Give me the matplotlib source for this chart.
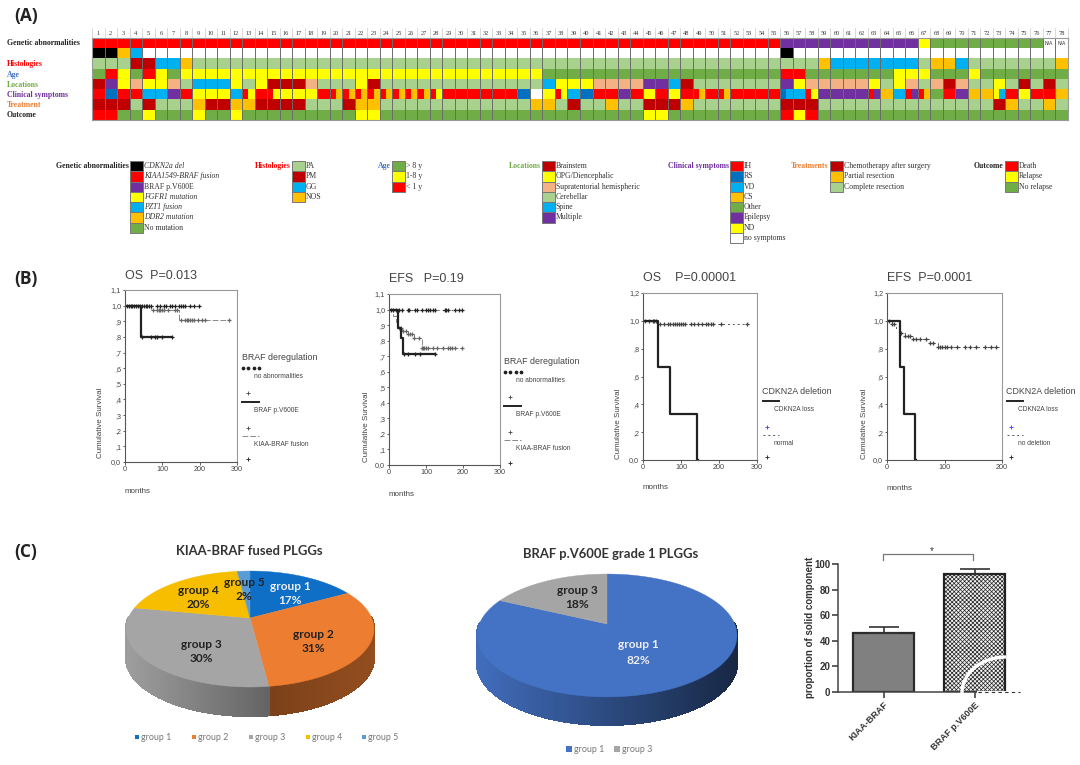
import numpy as np
import matplotlib
matplotlib.use('Agg')
import matplotlib.pyplot as plt
from matplotlib.colors import ListedColormap, to_rgb
from matplotlib.collections import PolyCollection
from matplotlib.patches import Polygon, Rectangle

W, H = 1080, 765

# panel A, one code per patient (two letters = cell split in two)
codes = {'K': '#000000', 'R': '#FF0000', 'P': '#7030A0', 'Y': '#FFFF00', 'B': '#00B0F0', 'O': '#FFC000',
         'G': '#70AD47', 'L': '#A9D18E', 'D': '#C00000', 'S': '#F4B183', 'N': '#0070C0', 'W': '#FFFFFF'}

row_genetic = ['R'] * 55 + ['P'] * 11 + ['Y'] + ['G'] * 9 + ['W'] * 2
row_genetic2 = ['K'] * 2 + ['O', 'B'] + ['W'] * 51 + ['K'] + ['W'] * 22
row_histology = ['L'] * 3 + ['D'] * 2 + ['B'] * 2 + ['O'] + ['L'] * 50 + ['O'] + ['B'] * 7 + ['L'] + ['O'] * 2 + ['B'] \
    + ['L'] * 7 + ['O']
row_age = list('GRYGRYG') + ['Y'] * 29 + ['G'] * 19 + ['R'] * 2 + ['G'] * 7 + ['Y'] * 3 + ['G'] * 3 + ['Y'] + ['G'] * 7
row_location = list('DPYSYYSL') + ['B'] * 3 + ['Y', 'L', 'Y'] + ['D'] * 3 + ['S'] + ['L'] * 3 + ['Y', 'D'] + ['L'] * 13 \
    + ['B'] + ['Y'] * 3 + ['S'] * 4 + ['P'] * 2 + ['B', 'D'] + ['L'] * 7 + ['P', 'Y'] + ['S'] * 5 \
    + list('YLYSLSDS') + ['L'] * 2 + list('YLDLDL')
row_symptoms = ('R N R R B B P R Y Y Y B RY R RY Y Y Y R RO RO RO RO RO RO RO RO RY '
                'R R R R R R N W Y RY B N R R P R Y R Y R RO R RO R R R R '
                'NB B RY P P P P RP O B RP RO G R P O O YB R Y R R O').split()
row_treatment = ['D'] * 3 + ['L', 'D'] + ['L'] * 3 + ['O'] + ['D'] * 2 + ['O'] * 2 + ['D'] * 4 + ['L'] * 3 + ['D'] \
    + ['O'] * 2 + ['L'] * 12 + ['O'] * 2 + ['L', 'D'] + ['L'] * 2 + ['O'] + ['L'] * 2 + ['D'] * 3 + ['O'] + ['L'] * 7 \
    + ['D'] * 3 + ['L'] * 14 + ['D', 'O'] + ['L'] * 2 + ['O', 'L']
row_outcome = ['R'] * 2 + ['G'] * 2 + ['Y'] + ['G'] * 3 + ['Y'] + ['G'] * 2 + ['Y'] + ['G'] * 9 + ['Y'] * 2 + ['G'] * 21 \
    + ['Y'] * 2 + ['G'] * 9 + ['R', 'Y', 'R'] + ['G'] * 20
heat_rows = [row_genetic, row_genetic2, row_histology, row_age, row_location, row_symptoms, row_treatment, row_outcome]

row_labels = ['Genetic abnormalities', 'Histologies', 'Age', 'Locations', 'Clinical symptoms', 'Treatment', 'Outcome']
row_label_colors = ['#222222', '#FF0000', '#4472C4', '#70AD47', '#7030A0', '#ED7D31', '#222222']

legend_groups = [
    ('Genetic abnormalities', '#222222', list('KRPYBOG'),
     ['CDKN2a del', 'KIAA1549-BRAF fusion', 'BRAF p.V600E', 'FGFR1 mutation', 'PZT1 fusion', 'DDR2 mutation',
      'No mutation']),
    ('Histologies', '#FF0000', list('LDBO'), ['PA', 'PM', 'GG', 'NOS']),
    ('Age', '#4472C4', list('GYR'), ['> 8 y', '1-8 y', '< 1 y']),
    ('Locations', '#70AD47', list('DYSLBP'),
     ['Brainstem', 'OPG/Diencephalic', 'Supratentorial hemispheric', 'Cerebellar', 'Spine', 'Multiple']),
    ('Clinical symptoms', '#7030A0', list('RNBOGPYW'),
     ['IH', 'RS', 'VD', 'CS', 'Other', 'Epilepsy', 'ND', 'no symptoms']),
    ('Treatments', '#ED7D31', list('DOL'), ['Chemotherapy after surgery', 'Partial resection', 'Complete resection']),
    ('Outcome', '#222222', list('RYG'), ['Death', 'Relapse', 'No relapse']),
]
legend_swatch_x = [130, 292, 392, 542, 730, 830, 1005]
italic_legend = ['CDKN2a del', 'KIAA1549-BRAF fusion', 'FGFR1 mutation', 'PZT1 fusion', 'DDR2 mutation']

# panel B, survival curves: step times, survival, censor times
os1_none = ([0, 200], [1.0, 1.0],
            [5, 10, 15, 20, 25, 30, 35, 40, 45, 50, 55, 60, 65, 70, 85, 95, 105, 110, 120, 125, 135, 145, 150, 155,
             160, 175, 185, 198])
os1_v600 = ([0, 42, 125], [1.0, 0.8, 0.8], [45, 70, 80, 85, 100, 125])
os1_kiaa = ([0, 70, 145, 280], [1.0, 0.975, 0.91, 0.91],
            [75, 85, 90, 95, 100, 105, 115, 135, 140, 150, 160, 165, 170, 175, 180, 185, 195, 205, 215, 278])
efs1_none = ([0, 200], [1.0, 1.0],
             [5, 12, 20, 28, 35, 50, 55, 70, 75, 90, 100, 105, 110, 118, 125, 150, 155, 160, 178, 190, 198])
efs1_v600 = ([0, 24, 33, 38, 125], [1.0, 0.88, 0.82, 0.715, 0.715], [40, 50, 70, 85, 125])
efs1_kiaa = ([0, 10, 18, 25, 35, 50, 68, 88, 200], [1.0, 0.96, 0.92, 0.88, 0.86, 0.84, 0.82, 0.75, 0.75],
             [28, 32, 38, 45, 52, 58, 62, 68, 80, 90, 92, 95, 100, 105, 120, 130, 145, 160, 165, 170, 178, 198])
os2_loss = ([0, 40, 70, 143, 144], [1.0, 0.667, 0.333, 0.0, 0.0], [])
os2_normal = ([0, 38, 280], [1.0, 0.98, 0.98],
              [5, 15, 25, 30, 35, 45, 55, 65, 70, 80, 85, 90, 95, 100, 105, 110, 125, 135, 145, 155, 165, 170, 180,
               185, 205, 275])
efs2_loss = ([0, 23, 29, 49, 50], [1.0, 0.667, 0.333, 0.0, 0.0], [])
efs2_normal = ([0, 8, 15, 22, 32, 45, 75, 88, 195], [1.0, 0.98, 0.95, 0.91, 0.89, 0.87, 0.84, 0.81, 0.81],
               [4, 8, 12, 25, 32, 36, 40, 45, 50, 58, 68, 75, 80, 88, 92, 95, 100, 105, 112, 122, 135, 145, 155, 170,
                180, 190])

ticks_11 = [1.1, 1.0, 0.9, 0.8, 0.7, 0.6, 0.5, 0.4, 0.3, 0.2, 0.1, 0.0]
labels_11 = ['1,1', '1,0', ',9', ',8', ',7', ',6', ',5', ',4', ',3', ',2', ',1', '0,0']
ticks_12 = [1.2, 1.0, 0.8, 0.6, 0.4, 0.2, 0.0]
labels_12 = ['1,2', '1,0', ',8', ',6', ',4', ',2', '0,0']

# panel C
pie1_names = ['group 1', 'group 2', 'group 3', 'group 4', 'group 5']
pie1_values = [17, 31, 30, 20, 2]
pie1_colors = ['#0F6FC6', '#ED7D31', '#A5A5A5', '#F7BE00', '#5B9BD5']
pie2_names = ['group 1', 'group 3']
pie2_values = [82, 18]
pie2_colors = ['#4472C4', '#A5A5A5']

bar_names = ['KIAA-BRAF', 'BRAF p.V600E']
bar_values = [46, 92]
bar_errors = [5, 4]

plt.rcParams['font.family'] = ['Liberation Sans', 'DejaVu Sans']
plt.rcParams['hatch.linewidth'] = 0.5

fig = plt.figure(figsize=(W / 100, H / 100), dpi=100)


def px_axes(x0, y0, x1, y1, **kw):
    return fig.add_axes([x0 / W, 1 - y1 / H, (x1 - x0) / W, (y1 - y0) / H], **kw)


page = fig.add_axes([0, 0, 1, 1])
page.set_xlim(0, W)
page.set_ylim(H, 0)
page.axis('off')

for label, yy in zip(['(A)', '(B)', '(C)'], [16, 279, 552]):
    page.text(14, yy, label, fontsize=12.5, fontweight='bold', family='Open Sans', color='#222222', va='center')

# ---- panel A ----
code_list = list(codes)
cmap = ListedColormap([codes[c] for c in code_list])
matrix = []
for row in heat_rows:
    cells = []
    for cell in row:
        cells += [code_list.index(cell[0]), code_list.index(cell[-1])]
    matrix.append(cells)

ax_heat = px_axes(92, 38, 1068, 120)
ax_heat.imshow(np.array(matrix), cmap=cmap, vmin=0, vmax=len(code_list) - 1, aspect='auto', interpolation='nearest',
               extent=(0, 78, 8, 0))
ax_heat.vlines(np.arange(1, 78), 0, 8, color='#6b6b6b', lw=0.7)
ax_heat.set_xticks([])
ax_heat.set_yticks([])
for s in ax_heat.spines.values():
    s.set_color('#999999')
    s.set_linewidth(0.8)
ax_heat.text(76.5, 0.5, 'N/A', fontsize=3.6, ha='center', va='center', color='#333333')
ax_heat.text(77.5, 0.5, 'N/A', fontsize=3.6, ha='center', va='center', color='#333333')

col_w = (1068 - 92) / 78
for i in range(78):
    page.text(92 + col_w * (i + 0.5), 33, str(i + 1), fontsize=4.6, family='Liberation Serif', ha='center', va='center',
              color='#333333')
    page.plot([92 + col_w * i] * 2, [28, 38], color='#cccccc', lw=0.5)
page.plot([1068, 1068], [28, 38], color='#cccccc', lw=0.5)

for label, color, yy in zip(row_labels, row_label_colors, [43, 64, 74.6, 85, 95, 105, 115]):
    page.text(7, yy, label, fontsize=5.6, family='Liberation Serif', fontweight='bold', color=color, va='center')

for (title, color, swatches, names), sx in zip(legend_groups, legend_swatch_x):
    page.text(sx - 1.5, 166, title, fontsize=5.6, family='Liberation Serif', fontweight='bold', color=color,
              ha='right', va='center')
    for i, (code, name) in enumerate(zip(swatches, names)):
        page.add_patch(Rectangle((sx, 161 + 10.25 * i), 12.5, 10.25, facecolor=codes[code], edgecolor='#777777', lw=0.7))
        page.text(sx + 14, 166.2 + 10.25 * i, name, fontsize=5.6, family='Liberation Serif', va='center',
                  color='#333333', style='italic' if name in italic_legend else 'normal')


# ---- panel B ----
def km_panel(rect, xmax, xticks, ymax, yticks, ylabels, curves):
    ax = px_axes(*rect)
    ax.patch.set_alpha(0)
    for (times, surv, cens), style, mark_color in curves:
        ax.step(times, surv, where='post', **style)
        if len(cens):
            idx = np.searchsorted(times, cens, side='right') - 1
            ax.plot(cens, np.array(surv)[idx], '+', color=mark_color, ms=3.4, mew=0.9, clip_on=False)
    ax.set_xlim(0, xmax)
    ax.set_ylim(0, ymax)
    ax.set_xticks(xticks)
    ax.set_yticks(yticks)
    ax.set_yticklabels(ylabels)
    ax.tick_params(labelsize=5.2, length=1.8, width=0.6, pad=1, colors='#444444')
    for name, s in ax.spines.items():
        s.set_color('#555555' if name in ('left', 'bottom') else '#999999')
        s.set_linewidth(0.8)
    return ax


thick = dict(color='#222222', lw=1.6)
dots = dict(color='#333333', lw=0.8, ls=(0, (1, 3)))
dashes = dict(color='#888888', lw=0.7, ls=(0, (6, 2)))
thin_dots = dict(color='#555555', lw=0.7, ls=(0, (2, 3)))

km_panel((125, 290, 237, 462), 300, [0, 100, 200, 300], 1.1, ticks_11, labels_11,
         [(os1_kiaa, dashes, '#666666'), (os1_none, dots, '#222222'), (os1_v600, thick, '#222222')])
km_panel((389, 294, 500, 465), 300, [0, 100, 200, 300], 1.1, ticks_11, labels_11,
         [(efs1_kiaa, dashes, '#666666'), (efs1_none, dots, '#222222'), (efs1_v600, thick, '#222222')])
km_panel((643, 293, 757, 460), 300, [0, 100, 200, 300], 1.2, ticks_12, labels_12,
         [(os2_normal, thin_dots, '#444444'), (os2_loss, thick, '#222222')])
km_panel((887, 293, 1002, 460), 200, [0, 100, 200], 1.2, ticks_12, labels_12,
         [(efs2_normal, thin_dots, '#444444'), (efs2_loss, thick, '#222222')])

km_titles = [(125, 276, 'OS  P=0.013'), (389, 279, 'EFS   P=0.19'), (643, 278, 'OS    P=0.00001'),
             (887, 278, 'EFS  P=0.0001')]
for tx, ty, txt in km_titles:
    page.text(tx, ty, txt, fontsize=9, color='#444444', va='center')
for lx, ly, mx, my in [(101, 423, 125, 491), (366, 427, 389, 494), (619, 424, 643, 487), (864, 424, 887, 488)]:
    page.text(lx, ly, 'Cumulative Survival', fontsize=5.8, rotation=90, color='#444444', ha='center', va='center')
    page.text(mx, my, 'months', fontsize=5.8, color='#444444', va='center')


def braf_key(x, y):
    page.text(x, y, 'BRAF deregulation', fontsize=6.4, color='#444444', va='center')
    page.plot(np.linspace(x + 1, x + 17, 4), [y + 11] * 4, ls='none', marker='o', ms=1.7, color='#222222')
    page.text(x + 12, y + 19, 'no abnormalities', fontsize=4.8, color='#444444', va='center')
    page.plot([x + 6], [y + 36], '+', color='#444444', ms=3.5, mew=0.6)
    page.plot([x, x + 17], [y + 45, y + 45], color='#222222', lw=1.4)
    page.text(x + 12, y + 53, 'BRAF p.V600E', fontsize=4.8, color='#444444', va='center')
    page.plot([x + 6], [y + 71], '+', color='#444444', ms=3.5, mew=0.6)
    page.plot([x, x + 17], [y + 79, y + 79], color='#888888', lw=0.7, ls=(0, (6, 2)))
    page.text(x + 12, y + 87, 'KIAA-BRAF fusion', fontsize=4.8, color='#444444', va='center')
    page.plot([x + 6], [y + 102], '+', color='#333333', ms=3.5, mew=0.7)


def cdkn_key(x, y, name):
    page.text(x, y, 'CDKN2A deletion', fontsize=6.4, color='#444444', va='center')
    page.plot([x + 1, x + 17], [y + 10, y + 10], color='#222222', lw=1.4)
    page.text(x + 12, y + 18, 'CDKN2A loss', fontsize=4.8, color='#444444', va='center')
    page.plot([x + 5], [y + 36], '+', color='#4a4aff', ms=3.5, mew=0.7)
    page.plot([x + 1, x + 17], [y + 44, y + 44], color='#555555', lw=0.7, ls=(0, (2, 3)))
    page.text(x + 12, y + 52, name, fontsize=4.8, color='#444444', va='center')
    page.plot([x + 5], [y + 66], '+', color='#333333', ms=3.5, mew=0.7)


braf_key(242, 357)
braf_key(504, 361)
cdkn_key(762, 391, 'normal')
cdkn_key(1006, 391, 'no deletion')


# ---- panel C ----
def tilted_xy(angle, cx, cy, a, b, k):
    s, c = np.sin(angle), np.cos(angle)
    return cx + a * c / (1 + k * s), cy - b * s / (1 + k * s)


def pie3d(values, colors, shades, cx, cy, a, b, k, depth):
    edges = 90 - np.concatenate([[0], np.cumsum(values)]) / np.sum(values) * 360
    quads, quad_colors = [], []
    for i, col in enumerate(colors):
        ang = np.radians(np.arange(edges[i], edges[i + 1] - 0.5, -1.0))
        ang = np.append(ang, np.radians(edges[i + 1]))
        xs, ys = tilted_xy(ang, cx, cy, a, b, k)
        for j in range(len(ang) - 1):
            if ys[j] < cy and ys[j + 1] < cy:
                continue
            quads.append([(xs[j], ys[j]), (xs[j + 1], ys[j + 1]), (xs[j + 1], ys[j + 1] + depth), (xs[j], ys[j] + depth)])
            frac = (0.5 * (xs[j] + xs[j + 1]) - (cx - a)) / (2 * a)
            shade = shades[i][0] + (shades[i][1] - shades[i][0]) * frac
            quad_colors.append(tuple(np.array(to_rgb(col)) * shade))
    page.add_collection(PolyCollection(quads, facecolors=quad_colors, edgecolors=quad_colors, linewidths=0.8,
                                       antialiaseds=False))
    for i, col in enumerate(colors):
        ang = np.radians(np.linspace(edges[i], edges[i + 1], 120))
        xs, ys = tilted_xy(ang, cx, cy, a, b, k)
        page.add_patch(Polygon(np.column_stack([np.append(xs, cx), np.append(ys, cy)]), facecolor=col, edgecolor=col, lw=0.3))


pie3d(pie1_values, pie1_colors, [(1, 1), (0.38, 0.62), (0.95, 0.35), (1, 1), (1, 1)], 250, 618, 121.7, 55.9, 0.19, 29)
pie3d(pie2_values, pie2_colors, [(0.95, 0.35), (1, 1)], 607, 624, 127.7, 59.3, 0.187, 28)

pie_font = dict(family='Lato', fontweight='bold', ha='center', va='center', fontsize=8.6)
pie1_pos = [(290, 586, 600, '#eeeeee'), (313, 634, 648, '#222222'), (201, 645, 659, '#222222'),
            (198, 590, 604, '#222222'), (244, 582, 597, '#222222')]
for name, val, (tx, y1, y2, tc) in zip(pie1_names, pie1_values, pie1_pos):
    page.text(tx, y1, name, color=tc, **pie_font)
    page.text(tx, y2, f'{val}%', color=tc, **pie_font)
pie2_pos = [(638, 644, 660, '#eeeeee'), (577, 590, 605, '#222222')]
for name, val, (tx, y1, y2, tc) in zip(pie2_names, pie2_values, pie2_pos):
    page.text(tx, y1, name, color=tc, **pie_font)
    page.text(tx, y2, f'{val}%', color=tc, **pie_font)

page.text(249, 551, 'KIAA-BRAF fused PLGGs', family='Lato', fontweight='bold', fontsize=9.4, color='#333333',
          ha='center', va='center')
page.text(611, 554, 'BRAF p.V600E grade 1 PLGGs', family='Lato', fontweight='bold', fontsize=9.4, color='#333333',
          ha='center', va='center')

for name, col, sx in zip(pie1_names, pie1_colors, [135, 191.5, 249, 305.5, 362]):
    page.add_patch(Rectangle((sx, 735), 4, 4, facecolor=col, edgecolor='none'))
    page.text(sx + 6, 737, name, family='Lato', fontsize=6.4, color='#777777', va='center')
for name, col, sx in zip(pie2_names, pie2_colors, [566, 613.5]):
    page.add_patch(Rectangle((sx, 746), 6, 6, facecolor=col, edgecolor='none'))
    page.text(sx + 8, 749, name, family='Lato', fontsize=6.4, color='#777777', va='center')

# bar chart
ax_bar = px_axes(838, 564, 1020, 692)
ax_bar.patch.set_alpha(0)
ax_bar.bar([0], bar_values[:1], width=0.67, color='#808080', edgecolor='#2b2b2b', lw=1.6)
ax_bar.bar([1], bar_values[1:], width=0.67, color='#f2f2f2', edgecolor='#222222', lw=1.6, hatch='xxxxxxxx')
ax_bar.errorbar([0, 1], bar_values, yerr=[[0, 0], bar_errors], fmt='none', ecolor='#333333', elinewidth=1.2, capsize=11,
                capthick=1.2)
ax_bar.set_xlim(-0.5, 1.5)
ax_bar.set_ylim(0, 100)
ax_bar.set_xticks([0, 1])
ax_bar.set_xticklabels(bar_names, rotation=45, ha='right', rotation_mode='anchor', fontsize=6.6, fontweight='bold',
                       color='#333333')
ax_bar.set_yticks([0, 20, 40, 60, 80, 100])
ax_bar.tick_params(axis='y', labelsize=7, width=1.1, length=4, pad=1.5, labelcolor='#333333', color='#333333')
ax_bar.tick_params(axis='x', width=1.1, length=4, pad=2, color='#333333')
for lab in ax_bar.get_yticklabels():
    lab.set_fontweight('bold')
ax_bar.spines['top'].set_visible(False)
ax_bar.spines['right'].set_visible(False)
ax_bar.spines['left'].set_linewidth(1.1)
ax_bar.spines['bottom'].set_linewidth(1.1)
ax_bar.spines['left'].set_color('#444444')
ax_bar.spines['bottom'].set_color('#444444')

page.text(810, 627, 'proportion of solid component', rotation=90, fontsize=7, fontweight='bold', color='#333333',
          ha='center', va='center')
page.plot([883, 883, 973, 973], [560, 554, 554, 560], color='#777777', lw=0.9)
page.text(932, 551.5, '*', fontsize=7, ha='center', va='center', color='#333333')

# white arc scribbled over the second bar in the source figure
top = fig.add_axes([0, 0, 1, 1], zorder=5)
top.set_xlim(0, W)
top.set_ylim(H, 0)
top.axis('off')
theta = np.radians(np.linspace(90, 180, 60))
top.plot(1006 + 44 * np.cos(theta), 693 - 36 * np.sin(theta), color='white', lw=2.4, solid_capstyle='butt')
top.plot([978, 1020], [692, 692], color='white', lw=1.4)
top.plot([978, 1020], [692, 692], color='#333333', lw=0.8, ls=(0, (3, 3)))

fig.savefig('out.png', dpi=100)
